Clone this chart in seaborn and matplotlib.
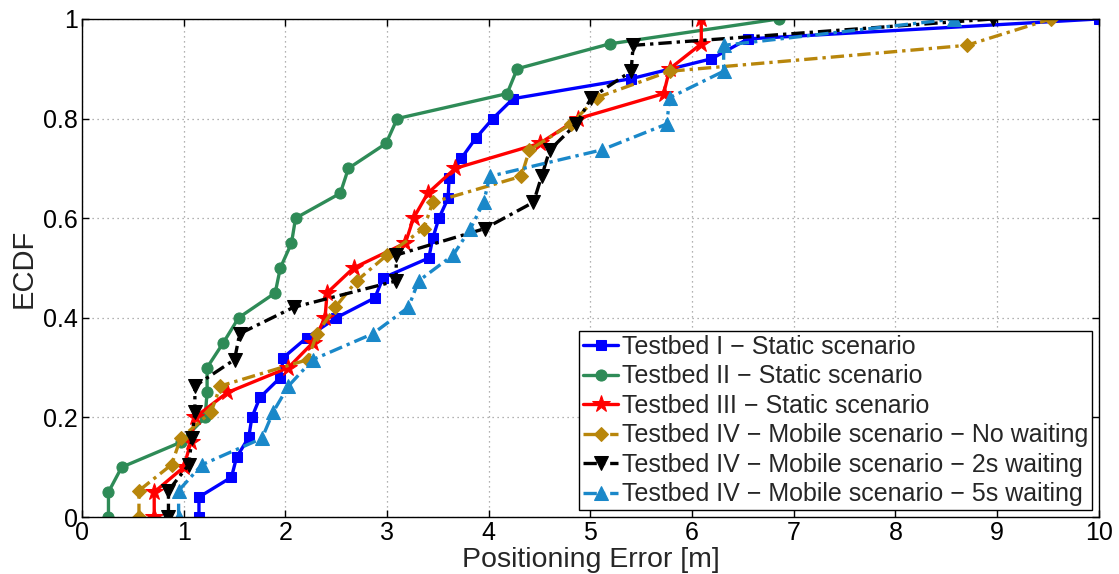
import numpy as np
import pandas as pd
import matplotlib
matplotlib.use("Agg")
import matplotlib.pyplot as plt
import seaborn as sns

# ---- data ----
labels = [
    "Testbed I \u2212 Static scenario",
    "Testbed II \u2212 Static scenario",
    "Testbed III \u2212 Static scenario",
    "Testbed IV \u2212 Mobile scenario \u2212 No waiting",
    "Testbed IV \u2212 Mobile scenario \u2212 2s waiting",
    "Testbed IV \u2212 Mobile scenario \u2212 5s waiting",
]

tb1_x = [1.15, 1.15, 1.47, 1.52, 1.64, 1.67, 1.75, 1.95, 1.98, 2.21, 2.50, 2.88, 2.96,
         3.41, 3.45, 3.51, 3.60, 3.61, 3.73, 3.87, 4.04, 4.24, 5.40, 6.19, 6.55, 10.0]
tb1_y = [0.00, 0.04, 0.08, 0.12, 0.16, 0.20, 0.24, 0.28, 0.32, 0.36, 0.40, 0.44, 0.48,
         0.52, 0.56, 0.60, 0.64, 0.68, 0.72, 0.76, 0.80, 0.84, 0.88, 0.92, 0.96, 1.00]

tb2_x = [0.26, 0.26, 0.39, 0.97, 1.21, 1.23, 1.23, 1.39, 1.54, 1.90, 1.95, 2.06, 2.10,
         2.54, 2.62, 2.99, 3.10, 4.18, 4.28, 5.19, 6.85]
tb2_y = [0.00, 0.05, 0.10, 0.15, 0.20, 0.25, 0.30, 0.35, 0.40, 0.45, 0.50, 0.55, 0.60,
         0.65, 0.70, 0.75, 0.80, 0.85, 0.90, 0.95, 1.00]

tb3_x = [0.71, 0.71, 1.00, 1.07, 1.11, 1.43, 2.03, 2.27, 2.39, 2.41, 2.67, 3.18, 3.26,
         3.40, 3.67, 4.50, 4.88, 5.72, 5.78, 6.09, 6.09]
tb3_y = [0.00, 0.05, 0.10, 0.15, 0.20, 0.25, 0.30, 0.35, 0.40, 0.45, 0.50, 0.55, 0.60,
         0.65, 0.70, 0.75, 0.80, 0.85, 0.90, 0.95, 1.00]

tb4a_x = [0.56, 0.56, 0.88, 0.97, 1.27, 1.36, 2.22, 2.31, 2.49, 2.70, 3.00, 3.36, 3.45,
          4.32, 4.40, 4.81, 5.06, 5.78, 8.70, 9.53]
tb4a_y = [0.000, 0.053, 0.105, 0.158, 0.211, 0.263, 0.316, 0.368, 0.421, 0.474, 0.526,
          0.579, 0.632, 0.684, 0.737, 0.789, 0.842, 0.895, 0.947, 1.000]

tb4b_x = [0.85, 0.85, 1.05, 1.08, 1.11, 1.11, 1.50, 1.55, 2.08, 3.09, 3.09, 3.96, 4.44,
          4.52, 4.60, 4.86, 5.01, 5.40, 5.42, 8.96]
tb4b_y = tb4a_y

tb4c_x = [0.95, 0.95, 1.18, 1.77, 1.88, 2.03, 2.27, 2.86, 3.21, 3.31, 3.65, 3.82, 3.95,
          4.01, 5.11, 5.75, 5.78, 6.31, 6.31, 8.58]
tb4c_y = tb4a_y

xs = [tb1_x, tb2_x, tb3_x, tb4a_x, tb4b_x, tb4c_x]
ys = [tb1_y, tb2_y, tb3_y, tb4a_y, tb4b_y, tb4c_y]

# ---- style ----
colors = ["#0000ff", "#2e8b57", "#ff0000", "#b8860b", "#000000", "#1a88c9"]
markers = ["s", "o", "*", "D", "v", "^"]
msizes = [7, 8, 13, 7, 10, 10]
dashdot = (0, (4, 1.5, 1, 1.5))
lstyles = ["-", "-", "-", dashdot, dashdot, dashdot]

sns.set_theme(style="ticks")
plt.rcParams["font.family"] = ["Liberation Sans", "DejaVu Sans"]

fig = plt.figure(figsize=(11.19, 5.74), dpi=100)
ax = fig.add_axes([0.0733, 0.0993, 0.9087, 0.8677])

for i in range(6):
    df = pd.DataFrame({"x": xs[i], "y": ys[i]})
    sns.lineplot(data=df, x="x", y="y", ax=ax, sort=False, estimator=None,
                 color=colors[i], linestyle=lstyles[i], linewidth=2.4,
                 marker=markers[i], markersize=msizes[i],
                 markeredgecolor=colors[i], markerfacecolor=colors[i],
                 label=labels[i], clip_on=True)

ax.set_xlim(0, 10)
ax.set_ylim(0, 1)
ax.set_xticks(np.arange(0, 11, 1))
ax.set_yticks([0, 0.2, 0.4, 0.6, 0.8, 1.0])
ax.set_xticklabels([str(i) for i in range(11)])
ax.set_yticklabels(["0", "0.2", "0.4", "0.6", "0.8", "1"])
ax.grid(True, linestyle=(0, (1, 3)), color="#999999", linewidth=0.9)
ax.tick_params(direction="in", top=True, right=True, length=5, width=1,
               labelsize=18, colors="black", pad=3)
for s in ax.spines.values():
    s.set_visible(True)
    s.set_color("black")
    s.set_linewidth(1.0)

ax.set_xlabel("Positioning Error [m]", fontsize=20.5, labelpad=1)
ax.set_ylabel("ECDF", fontsize=21, labelpad=4)

leg = ax.legend(loc="lower right", fontsize=18, frameon=True, fancybox=False,
                edgecolor="black", framealpha=1, handlelength=1.4,
                handletextpad=0.15, borderaxespad=0.28, borderpad=0.15,
                labelspacing=0.22)
leg.get_frame().set_linewidth(1.0)

fig.savefig("out.png", dpi=100)
